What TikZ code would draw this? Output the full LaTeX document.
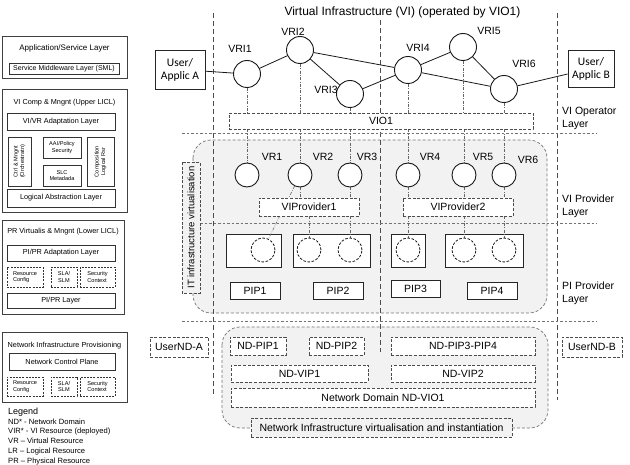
\documentclass[tikz,border=0pt]{standalone}
\usepackage{fontspec}
\setmainfont{Liberation Sans}
\newfontfamily\userfont{Carlito}
\usepackage{tikz}
\usetikzlibrary{positioning}
\pgfdeclarelayer{back}
\pgfdeclarelayer{mid}
\pgfsetlayers{back,mid,main}

\begin{document}
\begin{tikzpicture}[
    x=1pt, y=-1pt,
    font=\fontsize{10.5}{12.5}\selectfont,
    % left column
    colbox/.style={draw=black!75, line width=1pt},
    lbox/.style={draw=black!80, line width=0.8pt, fill=white, inner sep=0pt, align=center},
    ldash/.style={lbox, line width=0.6pt, dash pattern=on 2pt off 1.2pt},
    fsmall/.style={font=\fontsize{7.3}{8.5}\selectfont},
    ftiny/.style={font=\fontsize{5.6}{6.6}\selectfont},
    % main part
    sbox/.style={draw=black!85, line width=0.9pt, fill=white, inner sep=0pt, align=center},
    dbox/.style={sbox, draw=black!70, line width=0.7pt, dash pattern=on 3pt off 1.6pt},
    vri/.style={circle, draw=black!90, line width=0.9pt, fill=white, minimum size=27pt, inner sep=0pt},
    vres/.style={vri, minimum size=24pt},
    pres/.style={vres, line width=0.8pt, dash pattern=on 2.6pt off 1.6pt},
    link/.style={draw=black!90, line width=0.8pt},
    tie/.style={draw=black!60, line width=0.6pt, dash pattern=on 3pt off 1.5pt on 0.6pt off 1.5pt},
    vsep/.style={draw=black!70, line width=0.7pt, dash pattern=on 5pt off 3pt},
    hsep/.style={draw=black!55, line width=0.7pt, dash pattern=on 2.5pt off 2pt},
    region/.style={draw=black!55, line width=0.7pt, dash pattern=on 3pt off 2pt, rounded corners=18pt, fill=black!5},
    laytext/.style={anchor=west, align=left, inner sep=0pt, font=\fontsize{10.5}{13}\selectfont}
    ]
    \useasboundingbox (0,0) rectangle (630,465);

    % --- LEFT COLUMN: LAYER STACK ---
    \node[colbox, minimum width=125, minimum height=42] (appl) at (64.5,58) {};
    \node[font=\fontsize{8}{9}\selectfont, below=5pt of appl.north] (applt) {Application/Service Layer};
    \node[lbox, font=\fontsize{7}{8}\selectfont, minimum width=110, minimum height=11] (sml) at (64,68.5) {Service Middleware Layer (SML)};

    \node[colbox, minimum width=125, minimum height=123] (upper) at (64.5,151.5) {};
    \node[fsmall, below=6pt of upper.north] (uppert) {VI Comp \& Mngnt (Upper LICL)};
    \node[lbox, fsmall, minimum width=108, minimum height=17] (vivr) at (61,121.5) {VI/VR Adaptation Layer};
    \node[lbox, ftiny, rotate=90, minimum width=49, minimum height=23] (ctrl) at (19.5,161.5) {Ctrl \& Mngnt\\(Orchestratn)};
    \node[lbox, ftiny, minimum width=38, minimum height=21] (aai) at (62,147.5) {AAI/Policy\\Security};
    \node[lbox, ftiny, minimum width=38, minimum height=21] (slc) at (62,175.5) {SLC\\Metadada};
    \node[lbox, ftiny, rotate=90, minimum width=49, minimum height=27] (comp) at (100.5,161.5) {Composition\\Logical Rsr};
    \node[lbox, fsmall, minimum width=108, minimum height=18] (lal) at (61,198) {Logical Abstraction Layer};

    \node[colbox, minimum width=122, minimum height=94] (lower) at (63,268) {};
    \node[fsmall, below=4pt of lower.north] (lowert) {PR Virtualis \& Mngnt (Lower LICL)};
    \node[lbox, fsmall, minimum width=108, minimum height=16] (pipr) at (61,253) {PI/PR Adaptation Layer};
    \node[ldash, ftiny, align=left, minimum width=36, minimum height=20] (rcfg1) at (25,277) {Resource\\Config};
    \node[ldash, ftiny, minimum width=26, minimum height=20] (sla1) at (64,277) {SLA/\\SLM};
    \node[ldash, ftiny, align=left, minimum width=35, minimum height=20] (sec1) at (97.5,277) {Security\\Context};
    \node[lbox, fsmall, minimum width=108, minimum height=15] (pil) at (61,300.5) {PI/PR Layer};

    \node[colbox, minimum width=125, minimum height=70] (nip) at (64.5,368) {};
    \node[fsmall, below=6pt of nip.north] (nipt) {Network Infrastructure Provisioning};
    \node[lbox, fsmall, minimum width=106, minimum height=17] (ncp) at (62,361.5) {Network Control Plane};
    \node[ldash, ftiny, align=left, minimum width=36, minimum height=19] (rcfg2) at (25,386.5) {Resource\\Config};
    \node[ldash, ftiny, minimum width=26, minimum height=19] (sla2) at (64,386.5) {SLA/\\SLM};
    \node[ldash, ftiny, align=left, minimum width=35, minimum height=19] (sec2) at (97.5,386.5) {Security\\Context};

    % --- LEGEND ---
    \node[anchor=west, inner sep=0pt, font=\fontsize{9}{10}\selectfont] (lgd) at (8,412) {Legend};
    \node[anchor=north west, align=left, inner sep=0pt, font=\fontsize{7.6}{9.75}\selectfont] (lgdtxt) at (8,418.5)
        {ND* - Network Domain\\VIR* - VI Resource (deployed)\\VR -- Virtual Resource\\LR -- Logical Resource\\PR -- Physical Resource};

    % --- REGIONS AND SEPARATORS ---
    \begin{pgfonlayer}{back}
        \draw[region] (193,140) rectangle (547,313);
        \draw[region] (222,327) rectangle (548,428);
        \draw[vsep] (213,13) -- (213,397);
        \draw[vsep] (380,20) -- (380,352);
        \draw[vsep] (557,13) -- (557,400);
        \draw[hsep] (182,133) -- (597,133);
        \draw[hsep] (200,223) -- (597,223);
        \draw[hsep] (182,321) -- (597,321);
        % physical boxes
        \node[sbox, minimum width=55, minimum height=33] (pb1) at (253.5,250.5) {};
        \node[sbox, minimum width=77, minimum height=33] (pb2) at (331.5,250.5) {};
        \node[sbox, minimum width=34, minimum height=33] (pb3) at (408,250.5) {};
        \node[sbox, minimum width=78, minimum height=33] (pb4) at (484,250.5) {};
    \end{pgfonlayer}

    \node[font=\fontsize{12}{14}\selectfont, anchor=west] (title) at (281,12) {Virtual Infrastructure (VI) (operated by VIO1)};

    % --- VI OPERATOR LAYER ---
    \node[sbox, font=\userfont\fontsize{11.5}{13}\selectfont, minimum width=50, minimum height=39] (usera) at (180,69.5) {User/\\Applic A};
    \node[sbox, font=\userfont\fontsize{11.5}{13}\selectfont, minimum width=46, minimum height=37] (userb) at (591,68.5) {User/\\Applic B};

    \node[vri] (vri1) at (247,74) {};
    \node[vri] (vri2) at (300,50) {};
    \node[vri] (vri3) at (350,94) {};
    \node[vri] (vri4) at (408,70) {};
    \node[vri] (vri5) at (463,47) {};
    \node[vri] (vri6) at (504,89) {};
    \node (vri1l) at (240,49) {VRI1};
    \node (vri2l) at (293,32) {VRI2};
    \node (vri3l) at (326,90) {VRI3};
    \node (vri4l) at (418,48) {VRI4};
    \node (vri5l) at (489,31) {VRI5};
    \node (vri6l) at (524,64) {VRI6};

    \draw[link] (usera) -- (vri1) -- (vri2) -- (vri3) -- (vri4) -- (vri5) -- (vri6) -- (userb);
    \draw[link] (vri2) -- (vri4);
    \draw[link] (vri4) -- (vri6);

    \node[dbox, minimum width=304, minimum height=16] (vio) at (381,121) {VIO1};

    % --- VI PROVIDER LAYER ---
    \node[dbox, fill=black!5, rotate=90, minimum width=131, minimum height=18, font=\fontsize{9.5}{11}\selectfont] (itv) at (191,227.5) {IT infrastructure virtualisation};

    \node[vres] (vr1) at (247,175) {};
    \node[vres] (vr2) at (300,175) {};
    \node[vres] (vr3) at (350,175) {};
    \node[vres] (vr4) at (408,175) {};
    \node[vres] (vr5) at (464,175) {};
    \node[vres] (vr6) at (504,175) {};
    \node (vr1l) at (272,157) {VR1};
    \node (vr2l) at (323,157) {VR2};
    \node (vr3l) at (367,157) {VR3};
    \node (vr4l) at (430,157) {VR4};
    \node (vr5l) at (483,157) {VR5};
    \node (vr6l) at (528,160) {VR6};

    \node[dbox, minimum width=100, minimum height=18] (vip1) at (309,207) {VIProvider1};
    \node[dbox, minimum width=110, minimum height=18] (vip2) at (458,207) {VIProvider2};

    % --- PI PROVIDER LAYER ---
    \node[pres] (pc1) at (263,250) {};
    \node[pres] (pc2) at (309,250) {};
    \node[pres] (pc3) at (350,250) {};
    \node[pres] (pc4) at (408,250) {};
    \node[pres] (pc5) at (464,250) {};
    \node[pres] (pc6) at (504,250) {};

    \node[sbox, minimum width=50, minimum height=17] (pip1) at (255,290.5) {PIP1};
    \node[sbox, minimum width=50, minimum height=17] (pip2) at (338,290.5) {PIP2};
    \node[sbox, minimum width=49, minimum height=17] (pip3) at (415.5,288.5) {PIP3};
    \node[sbox, minimum width=50, minimum height=17] (pip4) at (492,290.5) {PIP4};

    % --- MAPPINGS (dash-dot) ---
    \begin{pgfonlayer}{mid}
        \foreach \i in {1,...,6} {
            \draw[tie] (vri\i.south) -- (vri\i.south |- vio.north);
            \draw[tie] (vio.south -| vr\i.north) -- (vr\i.north);
        }
        \draw[tie] (vr2.south) -- (vr2.south |- vip1.north);
        \draw[tie] (vr3.south) -- (vr3.south |- vip1.north);
        \foreach \i in {4,5,6}
            \draw[tie] (vr\i.south) -- (vr\i.south |- vip2.north);
        \draw[tie] (vr2) -- (pc1);
        \foreach \i in {2,3}
            \draw[tie] (vip1.south -| pc\i.north) -- (pc\i.north);
        \foreach \i in {4,5,6}
            \draw[tie] (vip2.south -| pc\i.north) -- (pc\i.north);
    \end{pgfonlayer}

    % --- LAYER NAMES ---
    \node[laytext] (lopl) at (562,118.5) {VI Operator\\Layer};
    \node[laytext] (lvpl) at (562,206.5) {VI Provider\\Layer};
    \node[laytext] (lppl) at (562,293) {PI Provider\\Layer};

    % --- NETWORK DOMAINS ---
    \node[dbox, minimum width=58, minimum height=20] (ndusera) at (179,347) {UserND-A};
    \node[dbox, minimum width=60, minimum height=20] (nduserb) at (592,347) {UserND-B};
    \node[dbox, minimum width=56, minimum height=18] (ndpip1) at (258,346) {ND-PIP1};
    \node[dbox, minimum width=55, minimum height=18] (ndpip2) at (336.5,346) {ND-PIP2};
    \node[dbox, minimum width=144, minimum height=18] (ndpip34) at (463,346) {ND-PIP3-PIP4};
    \node[dbox, minimum width=137, minimum height=17] (ndvip1) at (299.5,373.5) {ND-VIP1};
    \node[dbox, minimum width=144, minimum height=17] (ndvip2) at (463,373.5) {ND-VIP2};
    \node[dbox, minimum width=304, minimum height=19] (ndvio) at (383,397.5) {Network Domain ND-VIO1};
    \node[dbox, fill=black!5, minimum width=261, minimum height=19] (niv) at (381.5,427.5) {Network Infrastructure virtualisation and instantiation};

\end{tikzpicture}
\end{document}
